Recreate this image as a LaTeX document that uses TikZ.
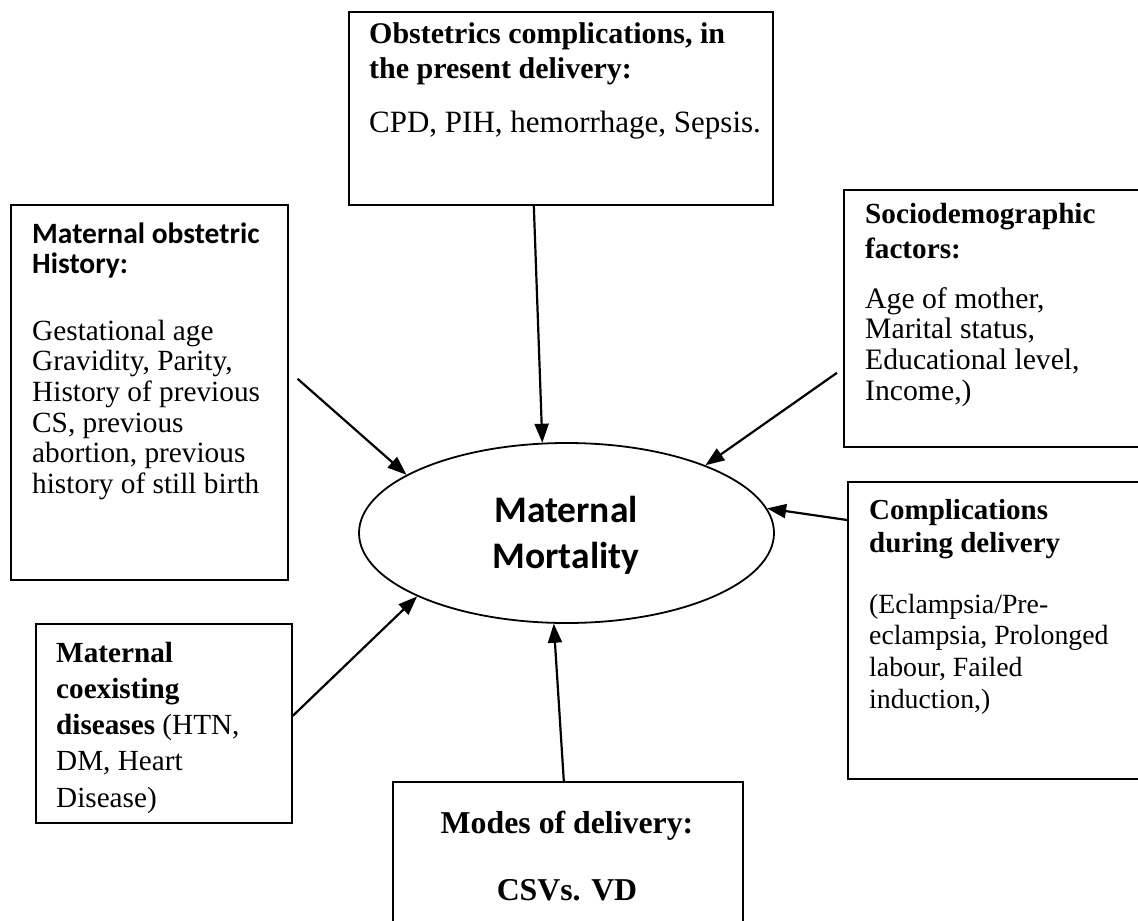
\documentclass[tikz,border=0pt]{standalone}
\usepackage{fontspec}
\setmainfont{Liberation Serif}
\newfontfamily\calfont{Carlito}
\usetikzlibrary{arrows.meta,shapes.geometric}
\newcommand\myrule[1]{\rule{0pt}{#1pt}}
\begin{document}
\begin{tikzpicture}[x=1pt,y=-1pt,
  box/.style={draw,line width=1.6pt,rectangle,inner sep=0pt,anchor=north west},
  txt/.style={anchor=north west,inner sep=0pt,align=left},
  arr/.style={line width=2.2pt,-{Triangle[length=19pt,width=14pt]}}]
\useasboundingbox (0,0) rectangle (1138,921);
\clip (0,0) rectangle (1138,921);
\fill[white] (0,0) rectangle (1138,921);

% top box
\node[box,minimum width=424pt,minimum height=193pt] (tb) at (348,11) {};
\node[txt,font=\fontsize{30}{35}\selectfont\bfseries] (tbh) at (369,18) {\myrule{25}Obstetrics complications, in\\the present delivery:};
\node[txt,font=\fontsize{31}{31}\selectfont] (tbb) at (369,107) {\myrule{25}CPD, PIH, hemorrhage, Sepsis.};

% left box
\node[box,minimum width=277pt,minimum height=375pt] (lb) at (10,204) {};
\node[txt,font=\fontsize{29.5}{30}\calfont\bfseries] (lbh) at (32,218) {\myrule{25}Maternal obstetric\\History:};
\node[txt,font=\fontsize{29.3}{30.6}\selectfont] (lbb) at (32,315) {\myrule{25}Gestational age\\Gravidity, Parity,\\History of previous\\CS, previous\\abortion, previous\\history of still birth};

% sociodemographic box
\node[box,minimum width=320pt,minimum height=257pt] (sb) at (843,189) {};
\node[txt,font=\fontsize{29.2}{35}\selectfont\bfseries] (sbh) at (865,198) {\myrule{25}Sociodemographic\\factors:};
\node[txt,font=\fontsize{29.7}{30.7}\selectfont] (sbb) at (865,283) {\myrule{25}Age of mother,\\Marital status,\\Educational level,\\Income,)};

% complications box
\node[box,minimum width=320pt,minimum height=297pt] (cb) at (847,481) {};
\node[txt,font=\fontsize{29}{33}\selectfont\bfseries] (cbh) at (869,494) {\myrule{25}Complications\\during delivery};
\node[txt,font=\fontsize{27.8}{31.7}\selectfont] (cbb) at (869,588) {\myrule{25}(Eclampsia/Pre-\\eclampsia, Prolonged\\labour, Failed\\induction,)};

% coexisting box
\node[box,minimum width=256pt,minimum height=199pt] (cx) at (35,623) {};
\node[txt,font=\fontsize{29.2}{36.2}\selectfont] (cxt) at (56,637) {\myrule{25}\textbf{Maternal}\\\textbf{coexisting}\\\textbf{diseases} (HTN,\\DM, Heart\\Disease)};

% bottom box
\node[box,minimum width=350pt,minimum height=200pt] (bb) at (392,781) {};
\node[anchor=north,inner sep=0pt,align=center,font=\fontsize{31.8}{67}\selectfont\bfseries] (bbt) at (567,808) {\myrule{25}Modes of delivery:\\CSVs. VD};

% central ellipse
\node[ellipse,draw,line width=1.8pt,minimum width=415pt,minimum height=180pt,inner sep=0pt] (mm) at (566.5,533) {};
\node[anchor=north,inner sep=0pt,align=center,font=\fontsize{37.5}{46}\calfont\bfseries] (mmt) at (566,492) {\myrule{30}Maternal\\Mortality};

% arrows
\draw[arr] ([xshift=-27pt]tb.south) -- (mm.105.4);
\draw[arr] ([xshift=9pt,yshift=13.5pt]lb.east) -- (mm.160.3);
\draw[arr] ([xshift=-6pt,yshift=-54.5pt]sb.west) -- (mm.26.8);
\draw[arr] ([yshift=-39pt]cb.north west) -- (mm.7.3);
\draw[arr] ([yshift=-93pt]cx.north east) -- (mm.203.7);
\draw[arr] ([xshift=-4pt]bb.north) -- (mm.262.8);
\end{tikzpicture}
\end{document}
